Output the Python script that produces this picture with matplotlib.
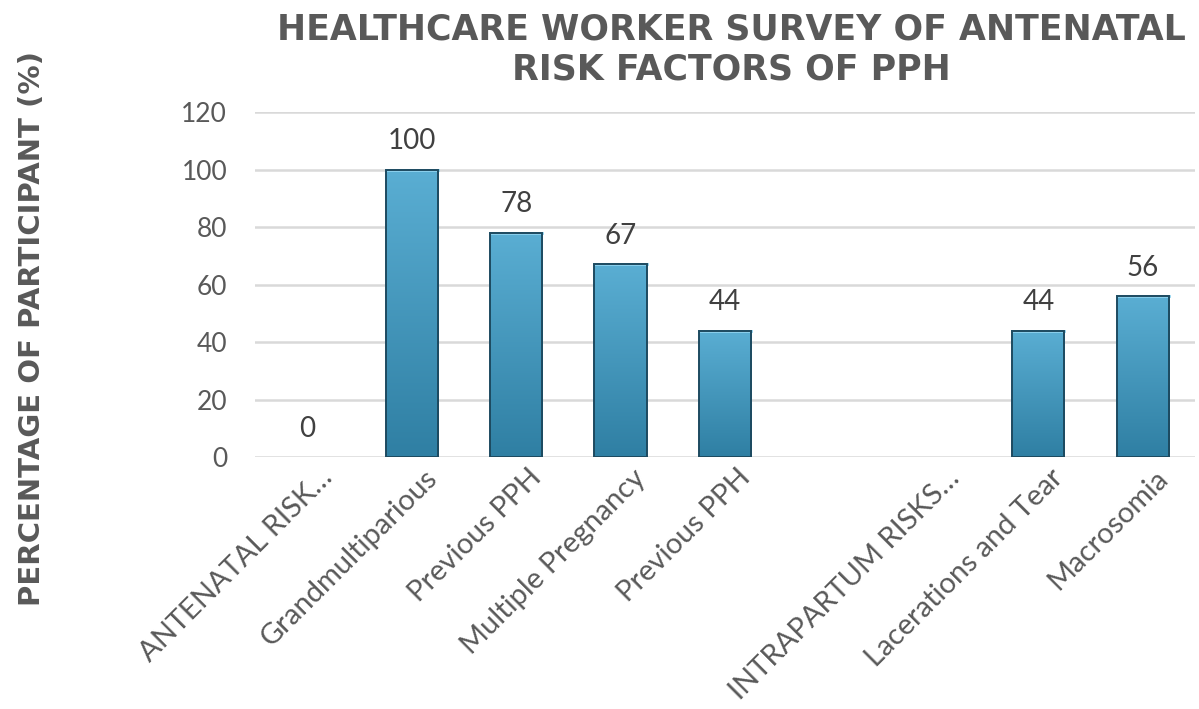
import numpy as np
import matplotlib
matplotlib.use("Agg")
import matplotlib.pyplot as plt
from matplotlib.transforms import ScaledTranslation

# data
categories = ["ANTENATAL RISK…", "Grandmultiparious", "Previous PPH",
              "Multiple Pregnancy", "Previous PPH", "",
              "INTRAPARTUM RISKS…", "Lacerations and Tear", "Macrosomia"]
values = [0, 100, 78, 67, 44, None, None, 44, 56]
yticks = [0, 20, 40, 60, 80, 100, 120]

title = "HEALTHCARE WORKER SURVEY OF ANTENATAL\nRISK FACTORS OF PPH"
ylabel = "PERCENTAGE OF PARTICIPANT (%)"

plt.rcParams['font.family'] = ['Lato', 'DejaVu Sans']
text_color = "#595959"

fig = plt.figure(figsize=(11.99, 7.09), dpi=100)
ax = fig.add_axes([0.2127, 0.3554, 0.784, 0.4866])

x = np.arange(len(categories))
cmap = matplotlib.colors.LinearSegmentedColormap.from_list(
    "bar", ["#2f7fa3", "#5aaed3"])
grad = np.linspace(0, 1, 256).reshape(-1, 1)

for xi, v in zip(x, values):
    if not v:
        continue
    b = ax.bar(xi, v, width=0.5, color="#3a8fb7", linewidth=0, zorder=3)[0]
    x0, w, h = b.get_x(), b.get_width(), b.get_height()
    # vertical gradient inside the bar, lighter at top
    im = ax.imshow(grad, extent=[x0, x0 + w, 0, h], origin="lower",
                   aspect="auto", cmap=cmap, zorder=3.5)
    im.set_clip_path(b)
    ax.plot([x0, x0 + w], [h, h], color="#8fd3ef", lw=2, zorder=4)
    ax.add_patch(plt.Rectangle((x0, 0), w, h, fill=False,
                               edgecolor="#1d4a60", lw=1.4, zorder=5))

for xi, v in zip(x, values):
    if v is None:
        continue
    ax.annotate(f"{v}", (xi, v), xytext=(0, 11), textcoords="offset points",
                ha="center", va="bottom", fontsize=20, color="#404040")

ax.set_xlim(-0.5, len(categories) - 0.5)
ax.set_ylim(0, 120)
ax.set_yticks(yticks)
ax.tick_params(axis="y", length=0, labelsize=19, labelcolor=text_color, pad=20)
ax.tick_params(axis="x", length=0)
ax.set_xticks(x)
ax.set_xticklabels(categories, rotation=45, ha="right", va="center",
                   rotation_mode="anchor", fontsize=21, color=text_color)
offset = ScaledTranslation(0.21, -0.12, fig.dpi_scale_trans)
for lbl in ax.get_xticklabels():
    lbl.set_transform(lbl.get_transform() + offset)

ax.grid(axis="y", color="#d9d9d9", linewidth=1.8, zorder=0)
ax.set_axisbelow(True)
for s in ax.spines.values():
    s.set_visible(False)

fig.text(0.61, 0.982, title, ha="center", va="top", fontsize=25,
         fontweight="bold", color=text_color, linespacing=1.2,
         family="DejaVu Sans")
fig.text(0.027, 0.537, ylabel, ha="center", va="center", rotation=90,
         fontsize=21, fontweight="bold", color=text_color,
         family="DejaVu Sans")

fig.savefig("out.png", dpi=100)
